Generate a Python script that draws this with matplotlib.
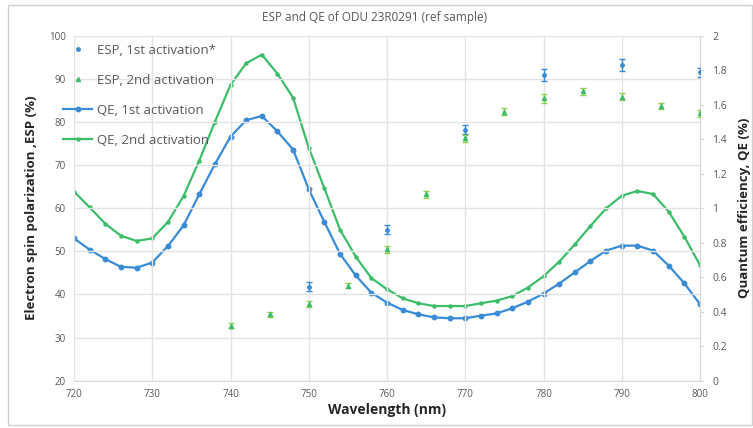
import matplotlib
matplotlib.use("Agg")
import matplotlib.pyplot as plt
from matplotlib.patches import Rectangle
from matplotlib.lines import Line2D

plt.rcParams['font.family'] = ['Open Sans', 'DejaVu Sans']

# QE data (every 2 nm)
qe_wl = list(range(720, 802, 2))
qe1 = [0.825, 0.76, 0.705, 0.66, 0.655, 0.685, 0.78, 0.90, 1.08, 1.255,
       1.415, 1.51, 1.535, 1.445, 1.34, 1.11, 0.92, 0.735, 0.61, 0.51,
       0.453, 0.41, 0.385, 0.367, 0.362, 0.362, 0.377, 0.39, 0.42, 0.458,
       0.505, 0.563, 0.628, 0.694, 0.754, 0.783, 0.783, 0.754, 0.667, 0.565,
       0.443]
qe2 = [1.096, 1.005, 0.91, 0.84, 0.81, 0.825, 0.92, 1.07, 1.275, 1.50,
       1.715, 1.84, 1.89, 1.78, 1.64, 1.35, 1.115, 0.875, 0.72, 0.595,
       0.53, 0.478, 0.449, 0.433, 0.433, 0.433, 0.449, 0.464, 0.49, 0.54,
       0.605, 0.69, 0.79, 0.897, 0.999, 1.072, 1.10, 1.082, 0.98, 0.835,
       0.67]

# ESP data
esp1_wl = [750, 760, 770, 780, 790, 800]
esp1 = [41.8, 55.0, 78.2, 90.9, 93.2, 91.5]
esp1_err = [1.0, 1.0, 1.0, 1.3, 1.3, 1.0]
esp2_wl = [740, 745, 750, 755, 760, 765, 770, 775, 780, 785, 790, 795, 800]
esp2 = [32.8, 35.4, 37.8, 42.0, 50.5, 63.2, 76.2, 82.4, 85.5, 87.1, 85.9, 83.7, 82.0]
esp2_err = [0.6, 0.6, 0.6, 0.6, 0.8, 0.8, 0.8, 0.8, 1.0, 0.8, 0.8, 0.8, 0.8]

xticks = list(range(720, 801, 10))
lticks = list(range(20, 101, 10))
rticks = [0, 0.2, 0.4, 0.6, 0.8, 1, 1.2, 1.4, 1.6, 1.8, 2]
rtick_labels = ["0", "0.2", "0.4", "0.6", "0.8", "1", "1.2", "1.4", "1.6", "1.8", "2"]

blue = '#3a8bd6'
green = '#3dbd6a'
green_err = '#8fd14f'
gray_txt = '#595959'
grid_c = '#e3e3e3'

fig = plt.figure(figsize=(7.53, 4.28), dpi=100)
fig.patches.append(Rectangle((8/753, 3/428), 744/753, 420/428, transform=fig.transFigure,
                             fill=False, edgecolor='#d0d0d0', lw=1))
ax = fig.add_axes([74/753, 47.3/428, 626/753, 345/428])
ax2 = ax.twinx()

ax.set_xlim(720, 800)
ax.set_ylim(20, 100)
ax2.set_ylim(0, 2)
ax.set_xticks(xticks)
ax.set_yticks(lticks)
ax2.set_yticks(rticks)
ax2.set_yticklabels(rtick_labels)
ax.grid(True, color=grid_c, lw=1)
ax.set_axisbelow(True)
for s in ['top', 'right', 'left']:
    ax.spines[s].set_visible(False)
ax.spines['bottom'].set_color('#d9d9d9')
for s in ['top', 'left', 'bottom']:
    ax2.spines[s].set_visible(False)
ax2.spines['right'].set_color('#d9d9d9')
ax.tick_params(axis='both', length=0, labelsize=7, labelcolor=gray_txt, pad=6)
ax2.tick_params(axis='y', length=3, color='#d9d9d9', labelsize=7.5, labelcolor=gray_txt, pad=6)

l3, = ax2.plot(qe_wl, qe1, '-o', color=blue, lw=1.6, ms=3.2, label='QE, 1st activation')
l4, = ax2.plot(qe_wl, qe2, '-o', color=green, lw=1.6, ms=2.2, label='QE, 2nd activation')
ax.errorbar(esp1_wl, esp1, yerr=esp1_err, fmt='o', color=blue, ms=2.5,
            ecolor=blue, elinewidth=1, capsize=2)
ax.errorbar(esp2_wl, esp2, yerr=esp2_err, fmt='^', color=green, ms=3,
            ecolor=green_err, elinewidth=1, capsize=2)
ax.set_zorder(ax2.get_zorder() + 1)
ax.patch.set_visible(False)

h1 = Line2D([], [], ls='none', marker='o', color=blue, ms=2.5)
h2 = Line2D([], [], ls='none', marker='^', color=green, ms=3)

ax.set_xlabel('Wavelength (nm)', fontsize=10, fontweight='bold', color='#262626', labelpad=2)
ax.set_ylabel('Electron spin polarization ,ESP (%)', fontsize=9.5, fontweight='bold',
              color='#262626', labelpad=8)
ax2.set_ylabel('Quantum efficiency, QE (%)', fontsize=9.5, fontweight='bold',
               color='#262626', labelpad=8)
fig.text(0.497, 1 - 17/428, 'ESP and QE of ODU 23R0291 (ref sample)', ha='center', va='center',
         fontsize=8.5, color=gray_txt)

leg = ax.legend([h1, h2, l3, l4], ['ESP, 1st activation*', 'ESP, 2nd activation',
                                  'QE, 1st activation', 'QE, 2nd activation'],
                loc='upper left', frameon=False, fontsize=9.5, labelspacing=1.3,
                handlelength=2.2, handletextpad=0.4, borderaxespad=0.2,
                bbox_to_anchor=(-0.03, 1.0))
for t in leg.get_texts():
    t.set_color(gray_txt)

fig.savefig('out.png', dpi=100)
